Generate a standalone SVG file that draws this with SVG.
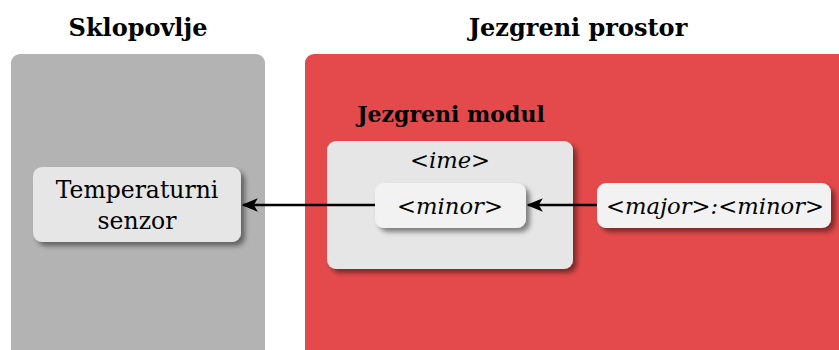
<svg xmlns="http://www.w3.org/2000/svg" width="839" height="350" viewBox="0 0 839 350">
  <style>
    .title { font-family: "DejaVu Serif", "Liberation Serif", serif; font-weight: bold; font-size: 24px; fill: #000; text-anchor: middle; }
    .label { font-family: "DejaVu Serif", "Liberation Serif", serif; font-size: 23.5px; fill: #000; text-anchor: middle; }
    .it { font-style: italic; font-size: 22.7px; }
    .conn { stroke: #000; stroke-width: 2.5; fill: none; marker-end: url(#arrow); }
  </style>
  <defs>
    <filter id="shadow" x="-20%" y="-20%" width="150%" height="160%">
      <feDropShadow dx="4" dy="4" stdDeviation="2.5" flood-color="#000" flood-opacity="0.45"/>
    </filter>
    <marker id="arrow" viewBox="0 0 12 10" refX="11" refY="5" markerWidth="6.5" markerHeight="5.4" orient="auto" markerUnits="strokeWidth">
      <path d="M0,0 L12,5 L0,10 L3,5 Z" fill="#000"/>
    </marker>
  </defs>

  <!-- hardware region -->
  <g id="sklopovlje">
    <rect x="11" y="54" width="254" height="310" rx="9" fill="#b3b3b3"/>
    <text class="title" x="138" y="36">Sklopovlje</text>
  </g>

  <!-- kernel space region -->
  <g id="jezgreni-prostor">
    <rect x="305" y="54" width="545" height="310" rx="9" fill="#e44a4b"/>
    <text class="title" x="578" y="36">Jezgreni prostor</text>
  </g>

  <g id="senzor">
    <rect x="33" y="167" width="208" height="75" rx="9" fill="#e6e6e6" filter="url(#shadow)"/>
    <text class="label" x="137" y="198">Temperaturni</text>
    <text class="label" x="137" y="229">senzor</text>
  </g>

  <g id="modul">
    <text class="title" x="451" y="122" style="font-size:22px">Jezgreni modul</text>
    <rect x="327" y="141" width="246" height="128" rx="9" fill="#e6e6e6" filter="url(#shadow)"/>
    <text class="label it" x="450" y="168">&lt;ime&gt;</text>
  </g>

  <g id="minor">
    <rect x="375" y="183" width="151" height="45" rx="9" fill="#f2f2f2" filter="url(#shadow)"/>
    <text class="label it" x="450" y="214">&lt;minor&gt;</text>
  </g>

  <g id="major-minor">
    <rect x="597" y="183" width="234" height="45" rx="9" fill="#f2f2f2" filter="url(#shadow)"/>
    <text class="label it" x="715" y="214">&lt;major&gt;:&lt;minor&gt;</text>
  </g>

  <g id="connectors">
    <line class="conn" x1="597" y1="205" x2="528" y2="205"/>
    <line class="conn" x1="375" y1="205" x2="243" y2="205"/>
  </g>
</svg>
